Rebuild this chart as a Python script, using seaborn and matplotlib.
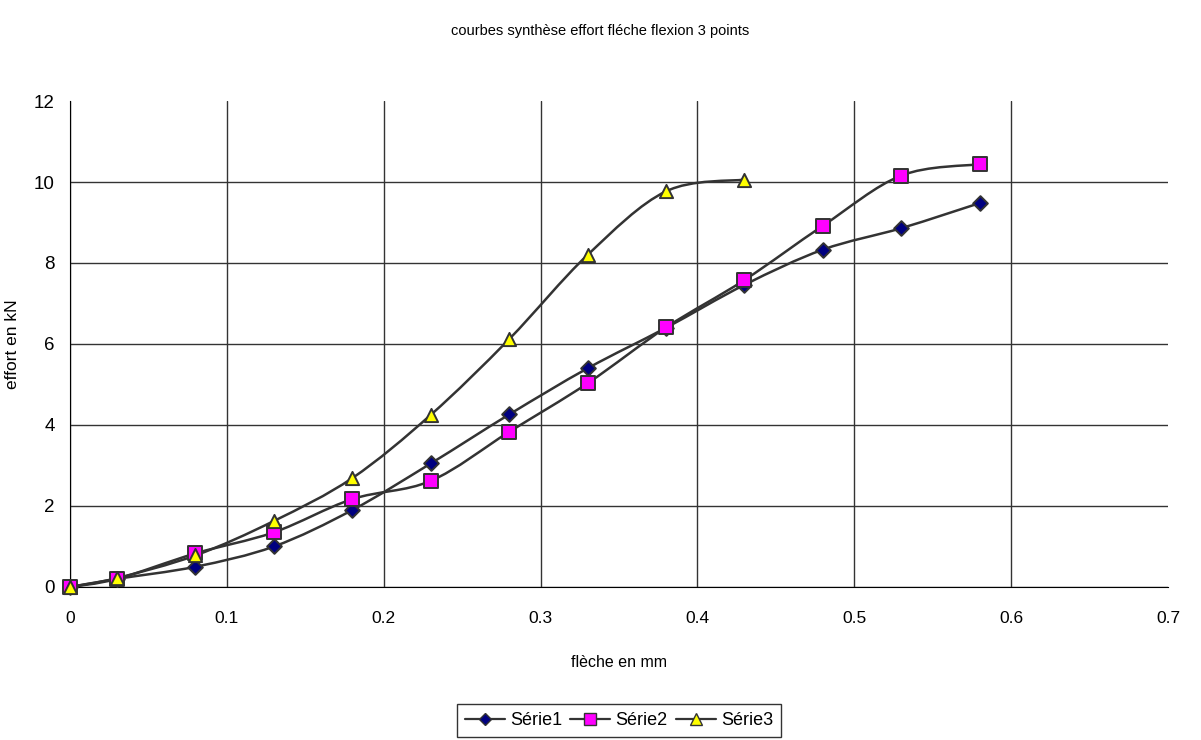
import numpy as np
import pandas as pd
import matplotlib
matplotlib.use("Agg")
import matplotlib.pyplot as plt
from matplotlib.path import Path
from matplotlib.patches import PathPatch
from matplotlib.lines import Line2D
import seaborn as sns

# deflection (mm) and load (kN)
fleche = [0, 0.03, 0.08, 0.13, 0.18, 0.23, 0.28, 0.33, 0.38, 0.43, 0.48, 0.53, 0.58]
serie1 = [0, 0.2, 0.5, 1.0, 1.9, 3.05, 4.26, 5.4, 6.4, 7.46, 8.33, 8.86, 9.48]
serie2 = [0, 0.2, 0.83, 1.35, 2.17, 2.62, 3.83, 5.03, 6.41, 7.58, 8.92, 10.16, 10.44]
fleche3 = [0, 0.03, 0.08, 0.13, 0.18, 0.23, 0.28, 0.33, 0.38, 0.43]
serie3 = [0, 0.22, 0.78, 1.63, 2.69, 4.25, 6.12, 8.2, 9.77, 10.06]
noms = ["Série1", "Série2", "Série3"]

xticks = [0, 0.1, 0.2, 0.3, 0.4, 0.5, 0.6, 0.7]
yticks = [0, 2, 4, 6, 8, 10, 12]

df = pd.concat([
    pd.DataFrame({"fleche": fleche, "effort": serie1, "serie": noms[0]}),
    pd.DataFrame({"fleche": fleche, "effort": serie2, "serie": noms[1]}),
    pd.DataFrame({"fleche": fleche3, "effort": serie3, "serie": noms[2]}),
])

couleurs = {"Série1": "#000080", "Série2": "#FF00FF", "Série3": "#FFFF00"}
marques = {"Série1": "D", "Série2": "s", "Série3": "^"}
tailles = {"Série1": 7.5, "Série2": 9.5, "Série3": 9.5}
trait = "#333333"

sns.set_style("white")
plt.rcParams["font.family"] = ["Liberation Sans", "DejaVu Sans"]

fig = plt.figure(figsize=(12.01, 7.4), dpi=100)
ax = fig.add_axes([0.0583, 0.2068, 0.9142, 0.6567])


def courbe_lissee(x, y):
    # Excel-like smoothed line: cubic Bezier through the points
    pts = np.column_stack([x, y])
    n = len(pts)
    verts = [pts[0]]
    codes = [Path.MOVETO]
    for i in range(n - 1):
        p0 = pts[i - 1] if i > 0 else pts[i]
        p1, p2 = pts[i], pts[i + 1]
        p3 = pts[i + 2] if i + 2 < n else pts[i + 1]
        c1 = p1 + (p2 - p0) / 6
        c2 = p2 - (p3 - p1) / 6
        verts += [c1, c2, p2]
        codes += [Path.CURVE4] * 3
    return Path(verts, codes)


for nom, sub in df.groupby("serie", sort=False):
    ax.add_patch(PathPatch(courbe_lissee(sub["fleche"].values, sub["effort"].values),
                           facecolor="none", edgecolor=trait, lw=1.8, zorder=2))

for nom, sub in df.groupby("serie", sort=False):
    sns.scatterplot(data=sub, x="fleche", y="effort", marker=marques[nom],
                    color=couleurs[nom], edgecolor=trait, linewidth=1.4,
                    s=tailles[nom] ** 2, ax=ax, zorder=3, legend=False,
                    clip_on=False)

ax.set_xlim(0, 0.7)
ax.set_ylim(0, 12)
ax.set_xticks(xticks)
ax.set_yticks(yticks)
ax.set_xticklabels([f"{t:g}" for t in xticks], fontsize=12.5)
ax.set_yticklabels([f"{t:g}" for t in yticks], fontsize=13.5)
ax.grid(True, color="#333333", lw=1)
ax.get_ygridlines()[-1].set_visible(False)
ax.get_xgridlines()[-1].set_visible(False)
ax.set_axisbelow(True)
for s in ["top", "right"]:
    ax.spines[s].set_visible(False)
ax.spines["left"].set_color("black")
ax.spines["bottom"].set_color("black")
ax.tick_params(axis="both", direction="out", length=6, color="#333333",
               labelcolor="black", pad=5)
ax.tick_params(axis="x", pad=11)

ax.set_xlabel("flèche en mm", fontsize=11.5, labelpad=21, color="black")
ax.set_ylabel("effort en kN", fontsize=12.5, labelpad=10, color="black")
fig.suptitle("courbes synthèse effort fléche flexion 3 points", fontsize=10.5,
             y=0.967, color="black")

poignees = [Line2D([], [], color=trait, lw=1.6, marker=marques[n],
                   markerfacecolor=couleurs[n], markeredgecolor=trait,
                   markersize=tailles[n] * 0.85) for n in noms]
leg = fig.legend(poignees, noms, loc="upper center", bbox_to_anchor=(0.5155, 0.049),
                 ncol=3, fontsize=13, frameon=True, fancybox=False,
                 handlelength=2.2, handletextpad=0.3, columnspacing=0.45,
                 borderpad=0.45, borderaxespad=0)
leg.get_frame().set_edgecolor("black")
leg.get_frame().set_linewidth(1)
for t in leg.get_texts():
    t.set_color("black")

fig.savefig("out.png", dpi=100)
